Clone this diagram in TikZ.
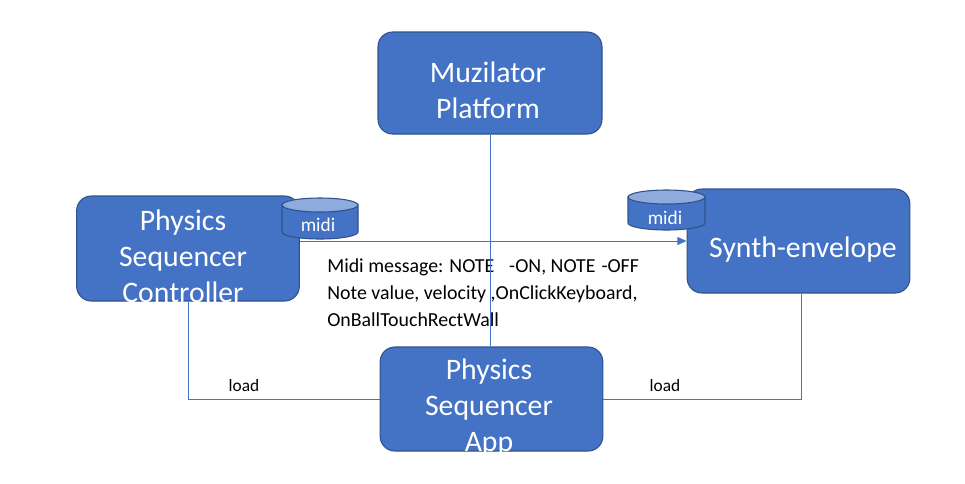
\documentclass[tikz,border=0pt]{standalone}
\usepackage{fontspec}
\setmainfont{Carlito}
\usetikzlibrary{arrows.meta}
\definecolor{boxblue}{HTML}{4472C4}
\definecolor{boxedge}{HTML}{2F528F}
\definecolor{cyltop}{HTML}{8FAADC}
\begin{document}
\begin{tikzpicture}[x=0.75pt,y=-0.75pt,
  box/.style={draw=boxedge, fill=boxblue, rounded corners=11pt, line width=0.8pt, inner sep=0pt, minimum width=167pt, minimum height=78pt},
  boxtext/.style={text=white, font=\fontsize{22.3}{27}\selectfont, align=center, inner sep=0pt},
  wire/.style={draw=boxblue, line width=0.75pt},
  cylbody/.style={draw=boxedge, fill=boxblue, line width=0.8pt},
  cyltopst/.style={draw=boxedge, fill=cyltop, line width=0.8pt},
  cyltext/.style={text=white, font=\fontsize{14.5}{16}\selectfont, inner sep=0pt},
  msg/.style={text=black, font=\fontsize{14.9}{20.25}\selectfont, align=left, inner sep=0pt},
  loadtext/.style={text=black, font=\fontsize{13}{15}\selectfont, inner sep=0pt}]
\useasboundingbox (0,0) rectangle (965,483);
% boxes
\node[box, minimum width=168pt, minimum height=76.5pt] (muz) at (490,83) {};
\node[box, minimum height=78.75pt] (ctrl) at (188,248.5) {};
\node[box] (synth) at (798.5,241) {};
\node[box] (app) at (491.5,399) {};
% box texts
\node[boxtext] (muzt) at (488,90.5) {Muzilator\\Platform};
\node[boxtext] (ctrlt) at (183,256) {Physics\\Sequencer\\Controller};
\node[boxtext] (syntht) at (803,250) {Synth-envelope};
\node[boxtext] (appt) at (489,407.5) {Physics\\Sequencer\\App};
% cylinders
\draw[cylbody] (282,205) -- (282,232) arc[start angle=180, end angle=0, x radius=38, y radius=7] -- (358,205) -- cycle;
\draw[cyltopst] (320,205) ellipse[x radius=38, y radius=7];
\node[cyltext] (midil) at (318,225) {midi};
\draw[cylbody] (628,197) -- (628,223) arc[start angle=180, end angle=0, x radius=38.5, y radius=7] -- (705,197) -- cycle;
\draw[cyltopst] (666.5,197) ellipse[x radius=38.5, y radius=7];
\node[cyltext] (midir) at (665,218) {midi};
% message text
\node[msg, anchor=north west] (msgt) at (327,258) {Midi message: NOTE\hspace{0.75em}-ON, NOTE\hspace{0.3em}-OFF\\Note value, velocity ,OnClickKeyboard,\\OnBallTouchRectWall};
% connectors
\draw[wire, -{Triangle[length=7pt,width=6pt]}] (ctrl.east |- synth.west) -- (synth.west);
\draw[wire] (muz.south) -- (muz.south |- app.north);
\draw[wire] (ctrl.south) |- (app.west);
\draw[wire] (app.east) -| ([xshift=2.5pt]synth.south);
% load labels
\node[loadtext] (load1) at (244,386) {load};
\node[loadtext] (load2) at (665,386) {load};
\end{tikzpicture}
\end{document}
